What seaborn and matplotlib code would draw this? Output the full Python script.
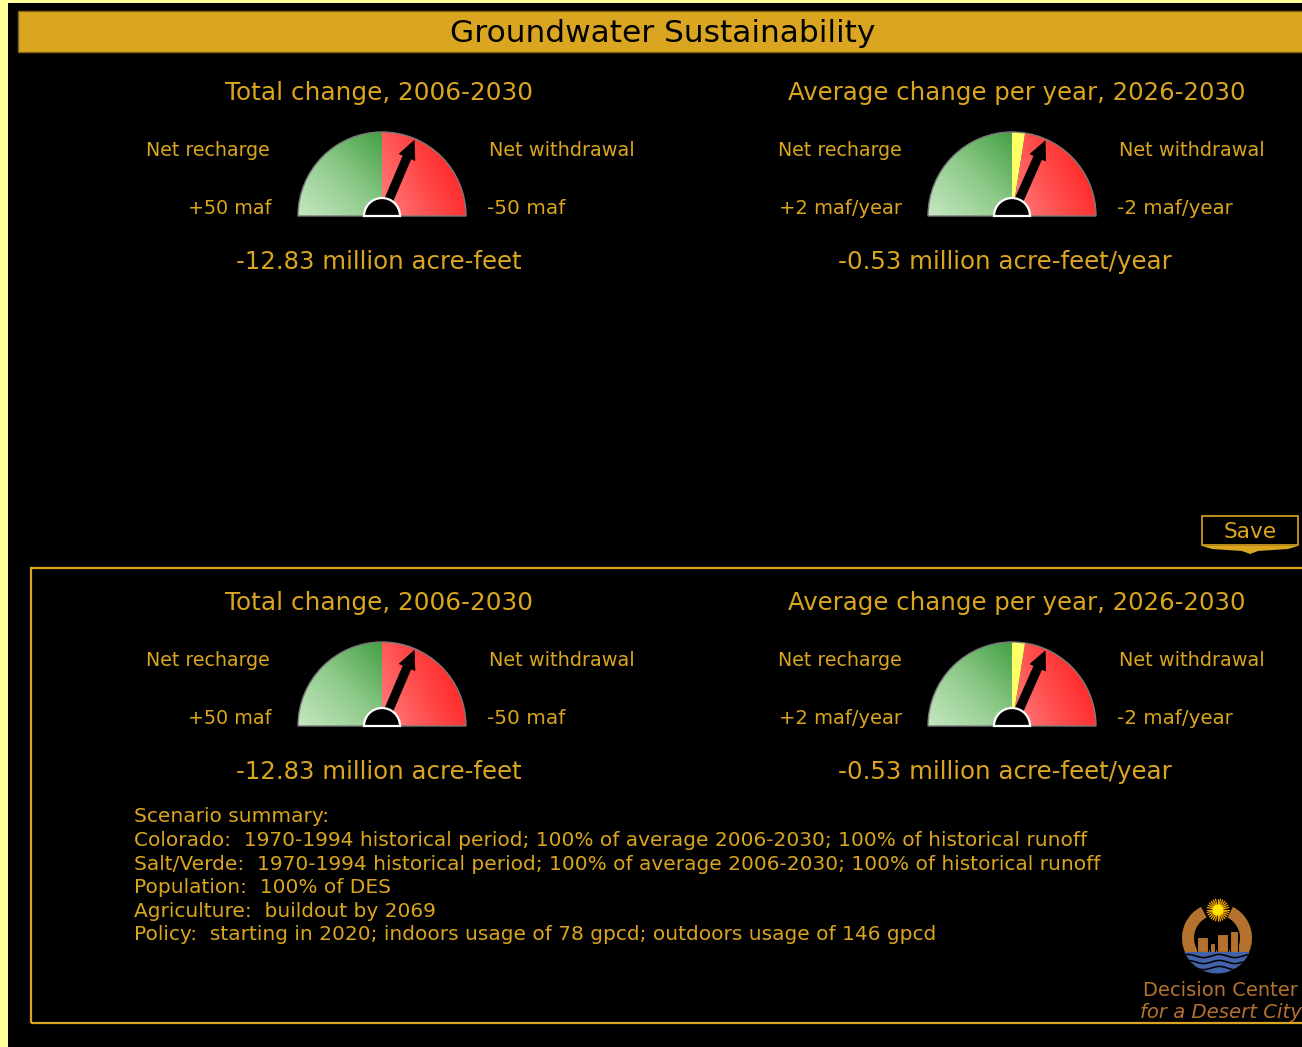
import numpy as np
import matplotlib
matplotlib.use("Agg")
import matplotlib.pyplot as plt
import seaborn as sns
from matplotlib.patches import Wedge, Rectangle, Polygon, FancyArrow, Circle
from matplotlib.colors import LinearSegmentedColormap

sns.set_theme(style="dark")
plt.rcParams['font.family'] = ['DejaVu Sans']

# ---------------- data ----------------
dashboard_title = "Groundwater Sustainability"
gauge_titles = ["Total change, 2006-2030", "Average change per year, 2026-2030"]
gauge_values = [-12.83, -0.53]
gauge_limits = [50, 2]
caution_limits = [0.0, 0.2]
recharge_label = "Net recharge"
withdrawal_label = "Net withdrawal"
left_ticks = ["+50 maf", "+2 maf/year"]
right_ticks = ["-50 maf", "-2 maf/year"]
value_labels = ["-12.83 million acre-feet", "-0.53 million acre-feet/year"]
summary_lines = [
    "Scenario summary:",
    "Colorado:  1970-1994 historical period; 100% of average 2006-2030; 100% of historical runoff",
    "Salt/Verde:  1970-1994 historical period; 100% of average 2006-2030; 100% of historical runoff",
    "Population:  100% of DES",
    "Agriculture:  buildout by 2069",
    "Policy:  starting in 2020; indoors usage of 78 gpcd; outdoors usage of 146 gpcd",
]
logo_lines = ["Decision Center", "for a Desert City"]
save_label = "Save"

# ---------------- styling ----------------
W, H = 1302, 1047
GOLD = '#DAA520'
COPPER = '#B5722E'
PALE = '#FFFF99'
DY = 2  # text baseline nudge

fig = plt.figure(figsize=(W / 100, H / 100), dpi=100, facecolor='black')
ax = fig.add_axes([0, 0, 1, 1])
ax.set_xlim(0, W)
ax.set_ylim(0, H)
ax.axis('off')
renderer = fig.canvas.get_renderer()


def Y(y):
    return H - y


def fit_text(x, y, s, width, ha='center', color=GOLD, base=20, **kw):
    t = ax.text(x, Y(y + DY), s, fontsize=base, ha=ha, va='center', color=color, **kw)
    bb = t.get_window_extent(renderer)
    t.set_fontsize(base * width / bb.width)
    return t


# outer frame
ax.add_patch(Rectangle((0, 0), 8, H, facecolor=PALE, edgecolor='none', zorder=0))
ax.add_patch(Rectangle((0, Y(3)), W, 3, facecolor=PALE, edgecolor='none', zorder=0))

# title bar
ax.add_patch(Rectangle((18, Y(52)), W, 41, facecolor=GOLD, edgecolor='#8a6510', lw=1, zorder=1))
fit_text(663, 32, dashboard_title, 426, color='black')

green_cmap = LinearSegmentedColormap.from_list('g', ['#c6e7c2', '#8fcb8b', '#45a045'])
red_cmap = LinearSegmentedColormap.from_list('r', ['#ff8080', '#ff4a4a', '#ff1e1e'])


def gradient_wedge(cx, cy, r, t1, t2, cmap, tfun, extent):
    w = Wedge((cx, cy), r, t1, t2, facecolor='none', edgecolor='none')
    ax.add_patch(w)
    x0, x1, y0, y1 = extent
    xs = np.linspace(x0, x1, 120)
    ys = np.linspace(y0, y1, 120)
    X, YY = np.meshgrid(xs, ys)
    T = tfun(X, YY)
    im = ax.imshow(T, extent=extent, origin='lower', cmap=cmap, vmin=0, vmax=1,
                   interpolation='bilinear', zorder=2)
    im.set_clip_path(w)


def draw_gauge(cx, cy_px, value, vmax, caution, r=84):
    cy = Y(cy_px)
    caution_deg = 90 * caution / vmax
    gradient_wedge(cx, cy, r, 90, 180, green_cmap,
                   lambda X, YY: np.clip(0.5 * (X - (cx - r)) / r + 0.5 * (YY - cy) / r, 0, 1),
                   (cx - r, cx, cy, cy + r))
    gradient_wedge(cx, cy, r, 0, 90 - caution_deg, red_cmap,
                   lambda X, YY: np.clip(0.75 * (X - cx) / r + 0.35 * (YY - cy) / r, 0, 1),
                   (cx, cx + r, cy, cy + r))
    if caution_deg > 0:
        ax.add_patch(Wedge((cx, cy), r, 90 - caution_deg, 90, facecolor='#ffff66',
                           edgecolor='none', zorder=3))
    ax.add_patch(Wedge((cx, cy), r, 0, 180, facecolor='none', edgecolor='#7a7a7a',
                       lw=1, zorder=4))
    frac = (vmax - value) / (2 * vmax)
    ang = np.deg2rad(180 - 180 * frac)
    L = 82
    ax.add_patch(FancyArrow(cx, cy, L * np.cos(ang), L * np.sin(ang), width=8.5,
                            head_width=17, head_length=18, length_includes_head=True,
                            facecolor='black', edgecolor='black', lw=0.5, zorder=5))
    ax.add_patch(Wedge((cx, cy), 18, 0, 180, facecolor='black', edgecolor='white',
                       lw=1.6, zorder=6))


def draw_panel(dy):
    # left gauge
    fit_text(379, 91 + dy, gauge_titles[0], 308)
    fit_text(270, 149 + dy, recharge_label, 124, ha='right')
    fit_text(489, 149 + dy, withdrawal_label, 146, ha='left')
    fit_text(272, 207 + dy, left_ticks[0], 84, ha='right')
    fit_text(487, 207 + dy, right_ticks[0], 78, ha='left')
    fit_text(379, 260 + dy, value_labels[0], 285)
    draw_gauge(382, 216 + dy, gauge_values[0], gauge_limits[0], caution_limits[0])
    # right gauge
    fit_text(1017, 91 + dy, gauge_titles[1], 457)
    fit_text(902, 149 + dy, recharge_label, 124, ha='right')
    fit_text(1119, 149 + dy, withdrawal_label, 146, ha='left')
    fit_text(902, 207 + dy, left_ticks[1], 123, ha='right')
    fit_text(1117, 207 + dy, right_ticks[1], 116, ha='left')
    fit_text(1005, 260 + dy, value_labels[1], 334)
    draw_gauge(1012, 216 + dy, gauge_values[1], gauge_limits[1], caution_limits[1])


draw_panel(0)

# Save button
ax.add_patch(Rectangle((1202, Y(545)), 96, 29, facecolor='black', edgecolor=GOLD, lw=1.2, zorder=3))
fit_text(1250, 530, save_label, 53)
ax.add_patch(Polygon([(1202, Y(546)), (1298, Y(546)), (1288, Y(549)), (1258, Y(551)),
                      (1250, Y(554)), (1242, Y(551)), (1212, Y(549))],
                     closed=True, facecolor=GOLD, edgecolor='none', zorder=3))

# lower panel frame
ax.add_patch(Rectangle((31, Y(1023)), 1320, 455, facecolor='none', edgecolor=GOLD, lw=1.6, zorder=3))
draw_panel(510)

# summary text
t0 = fit_text(134, 838, summary_lines[1], 952, ha='left')
fs = t0.get_fontsize()
t0.remove()
for i, line in enumerate(summary_lines):
    ax.text(134, Y(815 + DY + i * 23.6), line, fontsize=fs, ha='left', va='center', color=GOLD)

# logo
lc = (1217, Y(938))
ax.add_patch(Wedge(lc, 35, 117, 423, width=12, facecolor=COPPER, edgecolor='none', zorder=3))
bowl = Circle(lc, 25, facecolor=COPPER, edgecolor='none', zorder=3)
ax.add_patch(bowl)
clipr = Rectangle((1180, Y(975)), 80, 25, transform=ax.transData)
bowl.set_clip_path(clipr)
for (bx0, bx1, top) in [(1197, 1208, 937), (1210, 1215, 943), (1217, 1228, 934), (1230, 1238, 931)]:
    ax.add_patch(Rectangle((bx0, Y(952)), bx1 - bx0, 952 - top, facecolor=COPPER,
                           edgecolor='black', lw=0.8, zorder=4))
blue = Circle(lc, 35.5, facecolor='#4262aa', edgecolor='none', zorder=5)
ax.add_patch(blue)
blue.set_clip_path(Rectangle((1170, Y(990)), 100, 38, transform=ax.transData))
wx = np.linspace(1180, 1255, 200)
for wy in [956, 962, 968]:
    ln, = ax.plot(wx, Y(wy) + 1.6 * np.sin((wx - 1180) / 5.0), color='black', lw=1.1, zorder=6)
    ln.set_clip_path(Circle(lc, 35.5, transform=ax.transData))
sun = (1218, Y(910))
for a in np.linspace(0, 2 * np.pi, 28, endpoint=False):
    ax.plot([sun[0] + 5 * np.cos(a), sun[0] + 11 * np.cos(a)],
            [sun[1] + 5 * np.sin(a), sun[1] + 11 * np.sin(a)], color='#f0a800', lw=0.9, zorder=6)
ax.add_patch(Circle(sun, 5.5, facecolor='#ffe600', edgecolor='none', zorder=7))
fit_text(1220, 989, logo_lines[0], 155, color=COPPER)
fit_text(1140, 1010, logo_lines[1], 162, ha='left', color=COPPER, style='italic')

fig.savefig('out.png', dpi=100, facecolor='black')
